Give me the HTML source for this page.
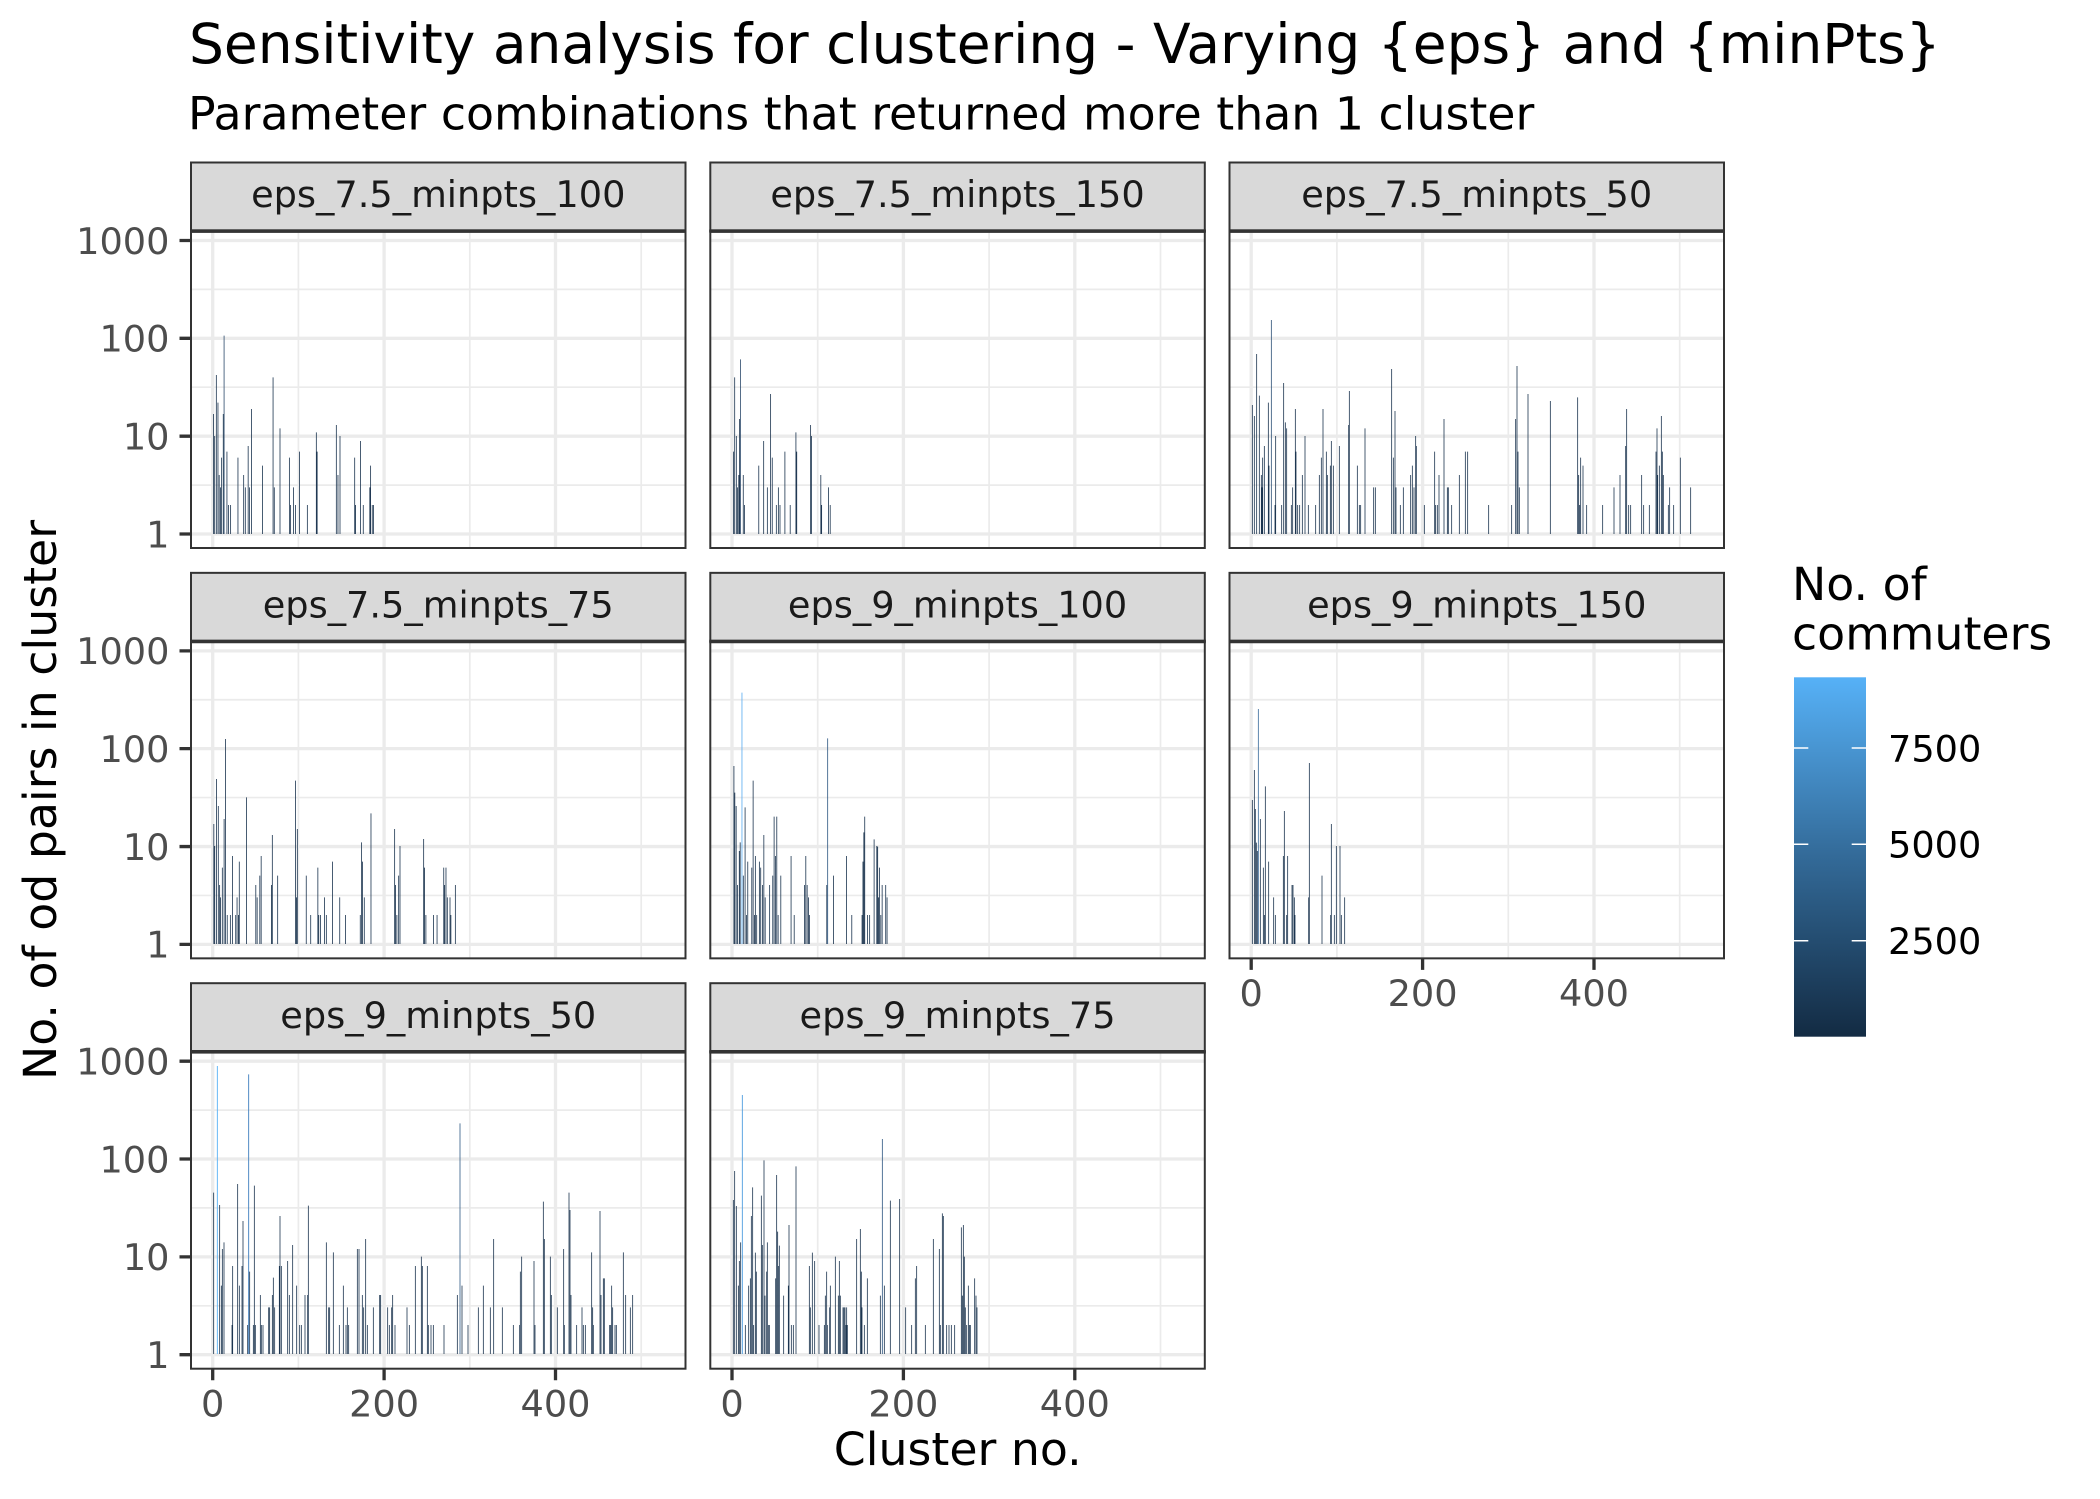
<!DOCTYPE html>
<html><head><meta charset="utf-8"><style>
html,body{margin:0;padding:0;background:#fff}
svg{display:block}
text{font-family:"DejaVu Sans","Liberation Sans",sans-serif}
</style></head><body>
<svg xmlns="http://www.w3.org/2000/svg" width="2100" height="1499" viewBox="0 0 2100 1499">
<defs>
<linearGradient id="cb" x1="0" y1="1" x2="0" y2="0">
<stop offset="0" stop-color="#132B43"/><stop offset="0.5" stop-color="#336A98"/><stop offset="1" stop-color="#56B1F7"/>
</linearGradient>
<g id="bg">
<rect x="0" y="68.5" width="494.5" height="317" fill="#fff"/>
<path stroke="#EBEBEB" stroke-width="1.7" fill="none" d="M0 126.9H494.5M0 224.7H494.5M0 322.6H494.5M107.4 68.5V385.5M278.8 68.5V385.5M450.2 68.5V385.5"/>
<path stroke="#EBEBEB" stroke-width="3.3" fill="none" d="M0 78H494.5M0 175.8H494.5M0 273.7H494.5M0 371.5H494.5M21.7 68.5V385.5M193.1 68.5V385.5M364.5 68.5V385.5"/>
</g>
<g id="fg">
<rect x="0" y="68.5" width="494.5" height="317" fill="none" stroke="#333333" stroke-width="2"/>
<rect x="0" y="0" width="494.5" height="68.5" fill="#D9D9D9" stroke="#333333" stroke-width="2"/>
<rect x="-1" y="66.8" width="496.5" height="3.6" fill="#333333"/>
</g>
</defs>
<rect width="2100" height="1499" fill="#fff"/>

<text x="189" y="63" font-size="55" fill="#000">Sensitivity analysis for clustering - Varying {eps} and {minPts}</text>
<text x="188" y="129.4" font-size="45.8" fill="#000">Parameter combinations that returned more than 1 cluster</text>

<use href="#bg" x="191" y="162.5"/>
<use href="#bg" x="710.3" y="162.5"/>
<use href="#bg" x="1229.5" y="162.5"/>
<use href="#bg" x="191" y="572.85"/>
<use href="#bg" x="710.3" y="572.85"/>
<use href="#bg" x="1229.5" y="572.85"/>
<use href="#bg" x="191" y="983.2"/>
<use href="#bg" x="710.3" y="983.2"/>

<!-- P1 + P2 -->
<g transform="translate(200 235) scale(0.408163 0.333333)" fill="none">
<path vector-effect="non-scaling-stroke" stroke="#1c3550" stroke-width="0.8" d="M33 897V537M36 897V603M40 897V420M44 897V503M47 897V720M50 897V757M53 897V668M57 897V537M66 897V650M70 897V810M75 897V810M93 897V668M107 897V720M111 897V757M118 897V633M121 897V757M126 897V522M153 897V692M179 897V427M182 897V757M196 897V580M219 897V668M222 897V810M229 897V757M234 897V810M244 897V650M263 897V810M285 897V592M287 897V650M334 897V570M338 897V720M343 897V603M379 897V668M381 897V810M393 897V618M400 897V810M416 897V757M418 897V692M422 897V810M425 897V810
M1307 897V650M1310 897V427M1314 897V603M1317 897V757M1320 897V720M1322 897V552M1331 897V720M1334 897V810M1369 897V692M1381 897V618M1390 897V757M1398 897V477M1402 897V668M1412 897V810M1417 897V757M1421 897V810M1433 897V650M1446 897V810M1460 897V592M1462 897V650M1496 897V570M1498 897V603M1521 897V720M1523 897V810M1540 897V757M1544 897V810"/>
<path vector-effect="non-scaling-stroke" stroke="#2C4A6B" stroke-width="0.8" d="M59 897V302M1324 897V373"/>
</g>

<!-- P3 -->
<g transform="translate(1229 235) scale(0.333333)" fill="none">
<path vector-effect="non-scaling-stroke" stroke="#1c3550" stroke-width="0.8" d="M70 897V510M76 897V543M83 897V357M91 897V482M97 897V720M99 897V757M101 897V668M106 897V633M118 897V503M120 897V692M138 897V810M140 897V603M158 897V810M164 897V444M169 897V562M173 897V580M187 897V810M191 897V757M199 897V522M201 897V650M206 897V810M212 897V810M220 897V720M228 897V603M238 897V810M260 897V810M271 897V720M277 897V668M282 897V522M292 897V650M295 897V720M304 897V692M307 897V618M313 897V692M331 897V633M359 897V570M361 897V468M385 897V692M391 897V810M395 897V810M408 897V580M434 897V757M439 897V757M488 897V402M493 897V668M498 897V528M501 897V757M514 897V810M523 897V757M545 897V720M550 897V692M555 897V757M560 897V603M562 897V633M586 897V810M617 897V650M620 897V810M625 897V810M630 897V720M645 897V552M655 897V757M658 897V757M668 897V810M691 897V720M709 897V650M716 897V650M779 897V810M848 897V810M860 897V552M864 897V393M867 897V650M871 897V757M897 897V477M964 897V498M1046 897V487M1049 897V720M1052 897V810M1055 897V668M1062 897V692M1073 897V810M1121 897V810M1155 897V757M1173 897V720M1190 897V633M1193 897V522M1199 897V810M1205 897V810M1238 897V720M1244 897V810M1261 897V810M1281 897V650M1284 897V580M1286 897V720M1291 897V692M1297 897V543M1300 897V650M1303 897V720M1318 897V810M1322 897V757M1334 897V810M1354 897V668M1385 897V757"/>
<path vector-effect="non-scaling-stroke" stroke="#2B4F75" stroke-width="0.8" d="M127 897V255"/>
</g>

<!-- P4 + P5 -->
<g transform="translate(200 645) scale(0.446429 0.333333)" fill="none">
<path vector-effect="non-scaling-stroke" stroke="#1c3550" stroke-width="0.8" d="M31 897V537M33 897V603M37 897V402M41 897V483M44 897V720M46 897V757M50 897V668M54 897V522M57 897V282M61 897V810M68 897V810M73 897V633M80 897V810M83 897V757M86 897V810M88 897V650M104 897V457M125 897V720M128 897V757M134 897V692M137 897V633M160 897V720M162 897V570M174 897V692M214 897V407M216 897V757M218 897V552M238 897V692M248 897V810M264 897V668M266 897V810M270 897V810M279 897V757M283 897V810M297 897V650M313 897V757M326 897V810M359 897V810M362 897V592M364 897V650M368 897V757M383 897V505M436 897V552M438 897V720M441 897V810M445 897V692M448 897V603M501 897V582M503 897V668M506 897V810M523 897V810M531 897V810M546 897V668M548 897V720M551 897V668M554 897V757M560 897V757M562 897V810M572 897V720
M1196 897V363M1198 897V443M1201 897V483M1204 897V720M1208 897V618M1210 897V592M1217 897V692M1221 897V487M1224 897V810M1227 897V650M1236 897V668M1239 897V407M1242 897V810M1244 897V633M1247 897V810M1253 897V650M1256 897V668M1260 897V720M1263 897V570M1266 897V757M1276 897V720M1283 897V692M1286 897V515M1289 897V633M1292 897V515M1295 897V810M1301 897V692M1324 897V633M1331 897V810M1354 897V720M1357 897V633M1360 897V720M1363 897V757M1365 897V810M1404 897V720M1419 897V692M1448 897V633M1460 897V810M1483 897V810M1485 897V650M1487 897V562M1489 897V515M1495 897V810M1500 897V810M1510 897V583M1516 897V603M1518 897V605M1520 897V757M1522 897V668M1525 897V810M1528 897V720M1536 897V720M1539 897V757"/>
<path vector-effect="non-scaling-stroke" stroke="#55A9F0" stroke-width="0.8" d="M1214 897V143"/>
<path vector-effect="non-scaling-stroke" stroke="#2C5580" stroke-width="0.8" d="M1406 897V280"/>
</g>

<!-- P6 -->
<g transform="translate(1229 645) scale(0.333333)" fill="none">
<path vector-effect="non-scaling-stroke" stroke="#1c3550" stroke-width="0.8" d="M70 897V465M76 897V375M79 897V492M82 897V593M85 897V618M94 897V522M103 897V668M106 897V810M109 897V424M119 897V650M134 897V757M139 897V810M163 897V633M166 897V498M173 897V810M176 897V633M189 897V720M192 897V720M196 897V757M198 897V810M239 897V757M241 897V354M279 897V692M305 897V810M307 897V537M316 897V810M322 897V603M333 897V603M337 897V810M347 897V757"/>
<path vector-effect="non-scaling-stroke" stroke="#36699A" stroke-width="0.8" d="M88 897V192"/>
</g>

<!-- P7 -->
<g transform="translate(200 1055) scale(0.333333)" fill="none">
<path vector-effect="non-scaling-stroke" stroke="#1c3550" stroke-width="0.8" d="M41 897V413M59 897V450M64 897V692M67 897V582M72 897V562M96 897V810M98 897V633M113 897V387M118 897V692M126 897V633M129 897V498M143 897V810M149 897V650M160 897V810M163 897V392M166 897V810M181 897V720M184 897V810M189 897V810M206 897V757M209 897V757M217 897V720M220 897V668M224 897V757M238 897V633M240 897V483M244 897V633M263 897V618M268 897V720M278 897V570M290 897V692M299 897V810M304 897V810M315 897V720M323 897V720M325 897V452M379 897V562M386 897V757M389 897V757M400 897V592M418 897V810M430 897V692M438 897V810M442 897V757M446 897V810M472 897V582M477 897V582M487 897V720M491 897V757M497 897V552M502 897V810M520 897V757M539 897V720M542 897V720M563 897V757M568 897V810M575 897V757M578 897V720M585 897V810M621 897V757M628 897V810M646 897V633M664 897V605M667 897V633M682 897V633M685 897V810M693 897V810M700 897V810M732 897V810M772 897V720M786 897V692M804 897V810M835 897V757M850 897V692M871 897V757M881 897V552M907 897V757M940 897V810M959 897V810M961 897V650M965 897V605M1002 897V618M1005 897V810M1030 897V440M1033 897V552M1051 897V605M1054 897V720M1072 897V757M1091 897V582M1093 897V810M1107 897V413M1110 897V465M1113 897V720M1130 897V810M1146 897V757M1150 897V810M1156 897V810M1175 897V592M1178 897V757M1180 897V810M1200 897V468M1203 897V720M1210 897V670M1213 897V670M1229 897V810M1232 897V810M1235 897V692M1238 897V757M1245 897V810M1249 897V810M1270 897V592M1277 897V720M1291 897V757M1298 897V720"/>
<path vector-effect="non-scaling-stroke" stroke="#56B0F5" stroke-width="0.9" d="M52 897V33"/>
<path vector-effect="non-scaling-stroke" stroke="#3F7FBE" stroke-width="0.9" d="M146 897V58"/>
<path vector-effect="non-scaling-stroke" stroke="#2F5A85" stroke-width="0.8" d="M780 897V205"/>
</g>

<!-- P8 -->
<g transform="translate(720 1055) scale(0.333333)" fill="none">
<path vector-effect="non-scaling-stroke" stroke="#1c3550" stroke-width="0.8" d="M40 897V435M44 897V348M49 897V453M55 897V692M58 897V618M62 897V562M76 897V810M86 897V692M91 897V670M94 897V483M98 897V397M101 897V810M106 897V593M109 897V650M124 897V422M127 897V570M132 897V316M135 897V722M140 897V650M142 897V562M146 897V810M148 897V810M167 897V670M170 897V360M173 897V530M176 897V633M178 897V572M191 897V722M205 897V692M207 897V510M214 897V810M220 897V810M228 897V334M268 897V633M271 897V757M277 897V593M284 897V618M297 897V810M313 897V810M316 897V722M320 897V650M322 897V810M329 897V757M331 897V692M346 897V605M355 897V722M358 897V618M361 897V722M369 897V757M372 897V757M375 897V757M378 897V810M380 897V757M382 897V810M410 897V552M421 897V522M424 897V650M426 897V757M433 897V810M442 897V670M481 897V722M493 897V692M511 897V437M539 897V432M557 897V757M575 897V810M586 897V670M590 897V633M616 897V810M640 897V552M658 897V582M661 897V810M667 897V475M670 897V483M680 897V810M687 897V810M694 897V810M704 897V810M724 897V517M727 897V722M730 897V510M733 897V605M736 897V757M740 897V810M745 897V692M748 897V810M751 897V810M764 897V670M768 897V722M771 897V757"/>
<path vector-effect="non-scaling-stroke" stroke="#4E9DDF" stroke-width="0.9" d="M67 897V120"/>
<path vector-effect="non-scaling-stroke" stroke="#2C5580" stroke-width="0.8" d="M487 897V252"/>
</g>

<use href="#fg" x="191" y="162.5"/>
<use href="#fg" x="710.3" y="162.5"/>
<use href="#fg" x="1229.5" y="162.5"/>
<use href="#fg" x="191" y="572.85"/>
<use href="#fg" x="710.3" y="572.85"/>
<use href="#fg" x="1229.5" y="572.85"/>
<use href="#fg" x="191" y="983.2"/>
<use href="#fg" x="710.3" y="983.2"/>

<g font-size="36.7" fill="#1A1A1A" text-anchor="middle">
<text x="438.25" y="207.2">eps_7.5_minpts_100</text>
<text x="957.55" y="207.2">eps_7.5_minpts_150</text>
<text x="1476.75" y="207.2">eps_7.5_minpts_50</text>
<text x="438.25" y="617.55">eps_7.5_minpts_75</text>
<text x="957.55" y="617.55">eps_9_minpts_100</text>
<text x="1476.75" y="617.55">eps_9_minpts_150</text>
<text x="438.25" y="1027.9">eps_9_minpts_50</text>
<text x="957.55" y="1027.9">eps_9_minpts_75</text>
</g>

<!-- y ticks -->
<path stroke="#333333" stroke-width="3.3" fill="none" d="M179.5 240.5H191M179.5 338.3H191M179.5 436.2H191M179.5 534H191M179.5 650.85H191M179.5 748.65H191M179.5 846.55H191M179.5 944.35H191M179.5 1061.2H191M179.5 1159H191M179.5 1256.9H191M179.5 1354.7H191"/>
<g font-size="36.7" fill="#4D4D4D" text-anchor="end">
<text x="169.5" y="253.8">1000</text><text x="169.5" y="351.6">100</text><text x="169.5" y="449.5">10</text><text x="169.5" y="547.3">1</text>
<text x="169.5" y="664.15">1000</text><text x="169.5" y="761.95">100</text><text x="169.5" y="859.85">10</text><text x="169.5" y="957.65">1</text>
<text x="169.5" y="1074.5">1000</text><text x="169.5" y="1172.3">100</text><text x="169.5" y="1270.2">10</text><text x="169.5" y="1368">1</text>
</g>

<!-- x ticks -->
<path stroke="#333333" stroke-width="3.3" fill="none" d="M212.7 1368.7V1380.2M384.1 1368.7V1380.2M555.5 1368.7V1380.2M732 1368.7V1380.2M903.4 1368.7V1380.2M1074.8 1368.7V1380.2M1251.2 958.4V969.9M1422.6 958.4V969.9M1594 958.4V969.9"/>
<g font-size="36.7" fill="#4D4D4D" text-anchor="middle">
<text x="212.7" y="1416.3">0</text><text x="384.1" y="1416.3">200</text><text x="555.5" y="1416.3">400</text>
<text x="732" y="1416.3">0</text><text x="903.4" y="1416.3">200</text><text x="1074.8" y="1416.3">400</text>
<text x="1251.2" y="1005.9">0</text><text x="1422.6" y="1005.9">200</text><text x="1594" y="1005.9">400</text>
</g>

<text x="957.75" y="1465" font-size="45.8" fill="#000" text-anchor="middle">Cluster no.</text>
<text transform="translate(56 800) rotate(-90)" font-size="45.8" fill="#000" text-anchor="middle">No. of od pairs in cluster</text>

<!-- legend -->
<text x="1792" y="600" font-size="45.8" fill="#000">No. of</text>
<text x="1792" y="649.3" font-size="45.8" fill="#000">commuters</text>
<rect x="1794" y="677.3" width="72" height="359.4" fill="url(#cb)"/>
<path stroke="#fff" stroke-width="1.5" fill="none" d="M1794 748H1808.3M1851.7 748H1866M1794 844.3H1808.3M1851.7 844.3H1866M1794 940.7H1808.3M1851.7 940.7H1866"/>
<g font-size="36.7" fill="#000">
<text x="1888" y="761.4">7500</text>
<text x="1888" y="857.7">5000</text>
<text x="1888" y="954.1">2500</text>
</g>
</svg>
</body></html>
